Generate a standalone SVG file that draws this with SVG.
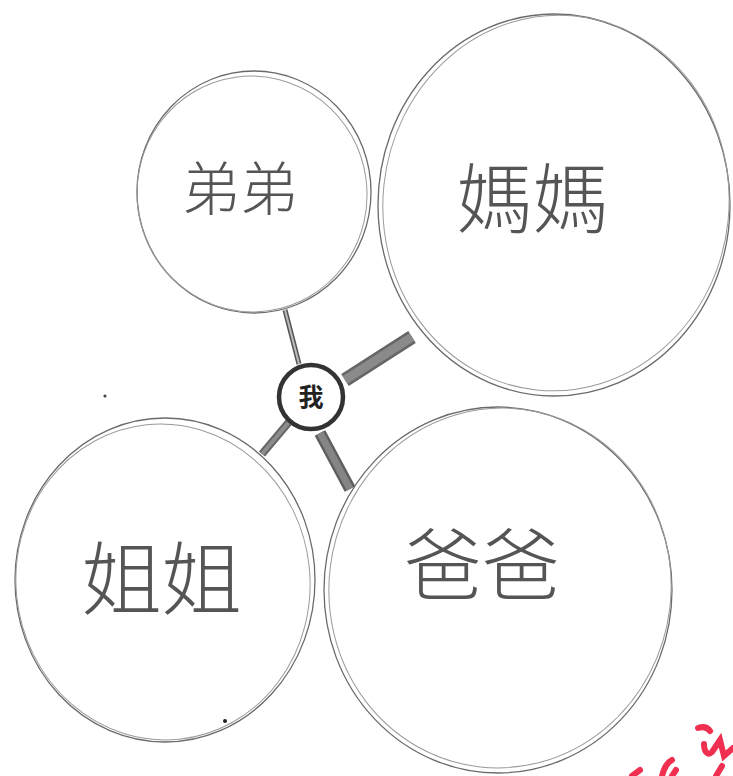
<svg xmlns="http://www.w3.org/2000/svg" width="733" height="776" viewBox="0 0 733 776">
<style>
.sk{fill:none;stroke:#6a6a6a;stroke-width:1.3;stroke-linecap:round}
.sk2{fill:none;stroke:#9a9a9a;stroke-width:1;stroke-linecap:round}
.lbl{font-family:"Noto Sans CJK TC","Noto Sans CJK SC",sans-serif;font-weight:300;fill:#555;text-anchor:middle}
.link{stroke-linecap:butt}
.me{font-family:"Noto Sans CJK TC","Noto Sans CJK SC",sans-serif;font-weight:700;fill:#222;text-anchor:middle}
</style>
<rect width="733" height="776" fill="#ffffff"/>
<g id="connectors">
  <line class="link" x1="285" y1="310" x2="299" y2="364" stroke="#555" stroke-width="5"/>
  <line class="link" x1="285" y1="310" x2="299" y2="364" stroke="#bbb" stroke-width="2"/>
  <line class="link" x1="345" y1="380" x2="412" y2="337" stroke="#666" stroke-width="14"/>
  <line class="link" x1="345" y1="380" x2="412" y2="337" stroke="#8a8a8a" stroke-width="9"/>
  <line class="link" x1="289" y1="422" x2="262" y2="454" stroke="#666" stroke-width="8"/>
  <line class="link" x1="289" y1="422" x2="262" y2="454" stroke="#8c8c8c" stroke-width="4"/>
  <line class="link" x1="320" y1="433" x2="350" y2="489" stroke="#5e5e5e" stroke-width="12"/>
  <line class="link" x1="320" y1="433" x2="350" y2="489" stroke="#858585" stroke-width="7"/>
</g>
<g id="node-didi">
  <ellipse class="sk" cx="254" cy="192" rx="117" ry="121"/>
  <ellipse class="sk2" cx="252" cy="194" rx="115" ry="118" transform="rotate(-8 252 194)"/>
  <text class="lbl" x="240" y="210" font-size="58">弟弟</text>
</g>
<g id="node-mama">
  <ellipse class="sk" cx="554" cy="205" rx="176" ry="191"/>
  <ellipse class="sk2" cx="556" cy="203" rx="173" ry="188" transform="rotate(6 556 203)"/>
  <text class="lbl" x="533" y="227" font-size="76">媽媽</text>
</g>
<g id="node-jiejie">
  <ellipse class="sk" cx="165" cy="580" rx="150" ry="162"/>
  <ellipse class="sk2" cx="163" cy="582" rx="147" ry="158" transform="rotate(-6 163 582)"/>
  <text class="lbl" x="162" y="608" font-size="80">姐姐</text>
</g>
<g id="node-baba">
  <ellipse class="sk" cx="498" cy="590" rx="174" ry="183"/>
  <ellipse class="sk2" cx="500" cy="588" rx="171" ry="180" transform="rotate(7 500 588)"/>
  <text class="lbl" x="482" y="594" font-size="78">爸爸</text>
</g>
<g id="node-me">
  <circle cx="311" cy="397" r="32" fill="#ffffff" stroke="#333" stroke-width="4.5"/>
  <text class="me" x="311" y="406" font-size="25">我</text>
</g>
<g id="marks">
  <circle cx="105" cy="396" r="1.6" fill="#444"/>
  <circle cx="225" cy="721" r="2" fill="#222"/>
  <path d="M632 776 L640 770 M662 776 C664 768 668 762 672 760 M676 770 L672 776 M698 728 C704 726 708 728 710 731 M704 744 C704 752 708 756 712 752 L720 740 L724 756 L733 748 M716 776 L722 766" fill="none" stroke="#f03050" stroke-width="6" stroke-linecap="round"/>
</g>
</svg>
